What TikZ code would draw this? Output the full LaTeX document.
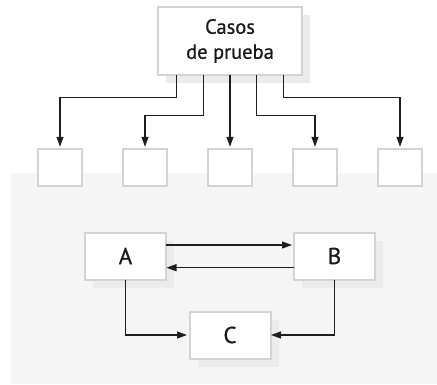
\documentclass[tikz,border=0pt]{standalone}
\usepackage{fontspec}
\setmainfont[FakeBold=0.7]{PT Sans}
\usetikzlibrary{arrows.meta,shadows}
\definecolor{bordergray}{HTML}{D3D3D3}
\definecolor{shadowgray}{HTML}{EBEBEB}
\definecolor{bggray}{HTML}{F5F5F5}
\definecolor{linegray}{HTML}{1E1E1E}
\begin{document}
\begin{tikzpicture}[x=1pt,y=-1pt,
  boxstyle/.style={draw=bordergray, line width=2pt, fill=white, inner sep=0pt, outer sep=0pt, text=black!90},
  shadowed/.style={general shadow={fill=shadowgray, shadow xshift=8pt, shadow yshift=-8pt}},
  smallbox/.style={boxstyle, minimum width=44.6pt, minimum height=37pt},
  letterbox/.style={boxstyle, shadowed, minimum width=81pt, minimum height=47pt, font=\fontsize{23}{27}\selectfont},
  conn/.style={draw=linegray, line width=1.2pt, -{Triangle[length=10pt,width=7pt]}}]
\useasboundingbox (0,0) rectangle (437,384);
\fill[bggray] (11,172.7) rectangle (437,384);
\node[boxstyle, shadowed, minimum width=144pt, minimum height=68pt, align=center,
      font=\fontsize{20.5}{25}\selectfont] (top) at (230,41) {Casos\\de prueba};
\node[smallbox] (s1) at (60,167.8) {};
\node[smallbox] (s2) at (145,167.8) {};
\node[smallbox] (s3) at (230,167.8) {};
\node[smallbox] (s4) at (315,167.8) {};
\node[smallbox] (s5) at (400,167.8) {};
\draw[conn, shorten >=2.5pt] ([xshift=-53.3pt]top.south) -- ++(0,22.3) -| (s1.north);
\draw[conn, shorten >=2.5pt] ([xshift=-26.7pt]top.south) -- ++(0,40.7) -| (s2.north);
\draw[conn, shorten >=2.5pt] (top.south) -- (s3.north);
\draw[conn, shorten >=2.5pt] ([xshift=26.7pt]top.south) -- ++(0,40.7) -| (s4.north);
\draw[conn, shorten >=2.5pt] ([xshift=53.3pt]top.south) -- ++(0,22.3) -| (s5.north);
\node[letterbox] (A) at (125.5,256) {A};
\node[letterbox] (B) at (334.5,256) {B};
\node[letterbox] (C) at (230,335) {C};
\draw[conn, shorten >=2pt] ([yshift=11pt]A.east) -- ([yshift=11pt]B.west);
\draw[conn, shorten >=0.5pt] ([yshift=-11.7pt]B.west) -- ([yshift=-11.7pt]A.east);
\draw[conn, shorten >=2.5pt] (A.south) |- (C.west);
\draw[conn, shorten >=0.5pt] (B.south) |- (C.east);
\end{tikzpicture}
\end{document}
